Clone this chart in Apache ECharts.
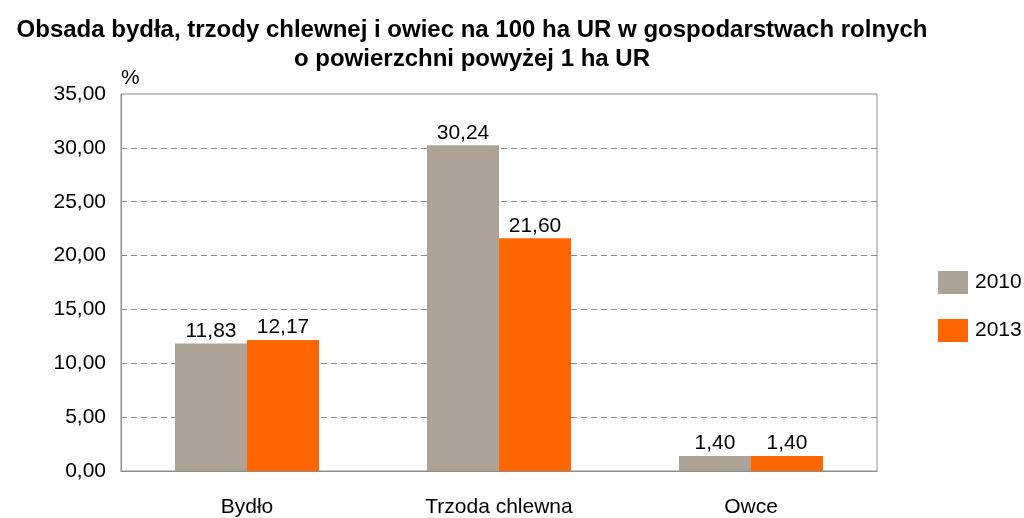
<!DOCTYPE html>
<html>
<head>
<meta charset="utf-8">
<script src="https://cdn.jsdelivr.net/npm/echarts@6/dist/echarts.min.js"></script>
<style>
  html, body { margin: 0; padding: 0; background: #fff; }
  #chart { width: 1024px; height: 518px; }
</style>
</head>
<body>
<div id="chart"></div>
<script>
const categories = ["Bydło", "Trzoda chlewna", "Owce"];
const values2010 = [11.83, 30.24, 1.40];
const values2013 = [12.17, 21.60, 1.40];
const yTicks = { min: 0, max: 35, interval: 5 };

const font = "Liberation Sans, Arial, sans-serif";
const fmt = (v) => v.toFixed(2).replace(".", ",");

const chart = echarts.init(document.getElementById("chart"));
chart.setOption({
  backgroundColor: "#fff",
  animation: false,
  title: {
    text: "Obsada bydła, trzody chlewnej i owiec na 100 ha UR w gospodarstwach rolnych\no powierzchni powyżej 1 ha UR",
    left: 467,
    textAlign: "center",
    top: 11,
    textStyle: { fontFamily: font, fontSize: 24, fontWeight: "bold", color: "#000", lineHeight: 29 },
  },
  legend: {
    orient: "vertical",
    left: 933,
    top: 266,
    itemWidth: 30,
    itemHeight: 23,
    itemGap: 25,
    icon: "rect",
    textStyle: { fontFamily: font, fontSize: 21, color: "#000", padding: [0, 0, 0, 2] },
    data: ["2010", "2013"],
  },
  grid: {
    left: 121, right: 147, top: 94, bottom: 44,
    show: true, borderColor: "#8c8c8c", borderWidth: 1,
  },
  xAxis: {
    type: "category",
    data: categories,
    axisLine: { lineStyle: { color: "#8c8c8c" } },
    axisTick: { show: false },
    axisLabel: { fontFamily: font, fontSize: 21, color: "#000", margin: 26 },
  },
  yAxis: {
    type: "value",
    ...yTicks,
    name: "%",
    nameLocation: "end",
    nameGap: 5,
    nameTextStyle: { fontFamily: font, fontSize: 21, color: "#000", align: "left" },
    axisLine: { show: true, lineStyle: { color: "#8c8c8c" } },
    axisTick: { show: false },
    axisLabel: { fontFamily: font, fontSize: 21, color: "#000", margin: 15, formatter: fmt },
    splitLine: {
      show: true,
      showMinLine: false,
      showMaxLine: false,
      lineStyle: { color: "#8c8c8c", type: [6, 4] },
    },
  },
  series: [
    {
      name: "2010",
      type: "bar",
      data: values2010,
      barWidth: 72,
      barGap: "0%",
      itemStyle: { color: "#aca396" },
      label: { show: true, position: "top", distance: 2, fontFamily: font, fontSize: 21, color: "#000", formatter: (p) => fmt(p.value) },
    },
    {
      name: "2013",
      type: "bar",
      data: values2013,
      barWidth: 72,
      barGap: "0%",
      itemStyle: { color: "#ff6600" },
      label: { show: true, position: "top", distance: 2, fontFamily: font, fontSize: 21, color: "#000", formatter: (p) => fmt(p.value) },
    },
  ],
});
</script>
</body>
</html>
